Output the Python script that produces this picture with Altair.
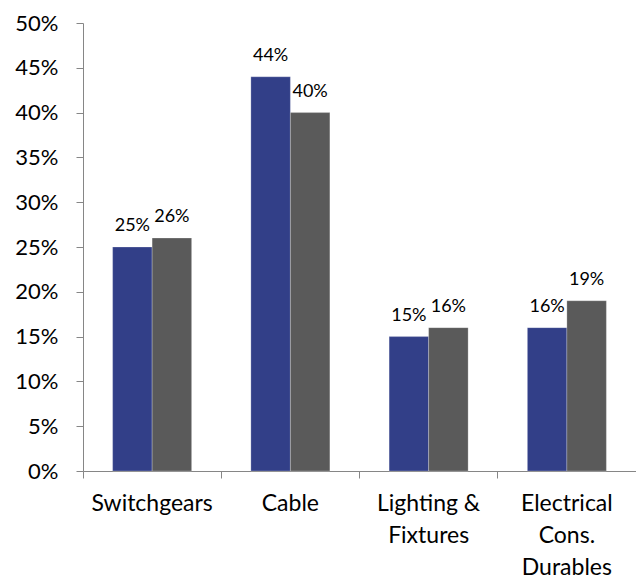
import altair as alt
import pandas as pd

categories = ["Switchgears", "Cable", "Lighting &|Fixtures", "Electrical|Cons.|Durables"]
series = ["A", "B"]
values_a = [0.25, 0.44, 0.15, 0.16]
values_b = [0.26, 0.40, 0.16, 0.19]
colors = ["#323F88", "#5A5A5A"]

rows = []
for c, a, b in zip(categories, values_a, values_b):
    rows.append({"cat": c, "series": series[0], "value": a})
    rows.append({"cat": c, "series": series[1], "value": b})
df = pd.DataFrame(rows)

W, H = 553, 448
FONT = "Lato"
AX = "#868686"

x = alt.X("cat:N", sort=categories, title=None,
          scale=alt.Scale(paddingInner=0, paddingOuter=0),
          axis=alt.Axis(labelAngle=0, bandPosition=0,
                        labelExpr="split(datum.label, '|')", labelLineHeight=32,
                        labelFontSize=23, labelFont=FONT, labelColor="#000000",
                        labelPadding=14, tickSize=7, tickColor=AX, domainColor=AX,
                        labelBaseline="top", labelAlign="center"))
xo = alt.XOffset("series:N", sort=series, scale=alt.Scale(paddingInner=0, paddingOuter=0.75))
y = alt.Y("value:Q", title=None,
          scale=alt.Scale(domain=[0, 0.5], nice=False),
          axis=alt.Axis(values=[i / 100 for i in range(0, 51, 5)], format=".0%", grid=False,
                        labelFontSize=22, labelFont=FONT, labelColor="#000000",
                        labelPadding=18, tickSize=7, tickColor=AX, domainColor=AX))

base = alt.Chart(df)
bars = base.mark_bar(stroke="#ffffff", strokeWidth=0.6, strokeOpacity=0.4).encode(
    x=x, xOffset=xo, y=y,
    color=alt.Color("series:N", sort=series, scale=alt.Scale(domain=series, range=colors), legend=None),
)
labels = base.mark_text(baseline="alphabetic", dy=-16, fontSize=18, font=FONT, color="#000000").encode(
    x=x, xOffset=xo, y=y,
    text=alt.Text("value:Q", format=".0%"),
)

chart = alt.layer(bars, labels).properties(
    width=W, height=H,
    autosize=alt.AutoSizeParams(type="none"),
    padding={"left": 83, "top": 23, "right": 0, "bottom": 108},
    background="#ffffff",
).configure_view(stroke=None)

chart.save("out.html", embed_options={"renderer": "svg", "actions": False})
